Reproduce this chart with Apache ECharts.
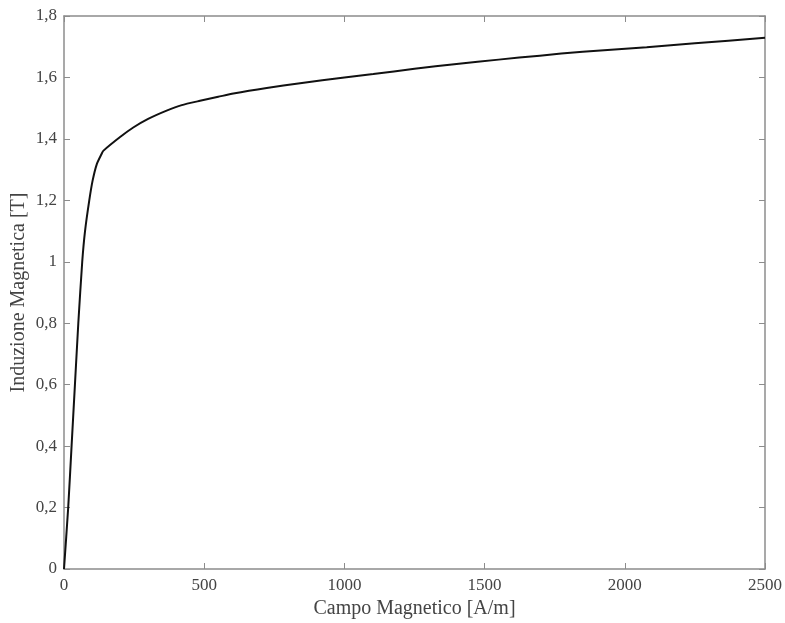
<!DOCTYPE html>
<html>
<head>
<meta charset="utf-8">
<script src="https://cdn.jsdelivr.net/npm/echarts@6/dist/echarts.min.js"></script>
<style>
  html, body { margin: 0; padding: 0; background: #fff; }
  #chart { width: 785px; height: 623px; }
</style>
</head>
<body>
<div id="chart"></div>
<script>
  // curva B-H
  var campoH = [0, 15, 27, 39, 51, 65, 75, 90, 102, 117, 134, 140, 200, 247, 300, 366, 420, 485, 550, 604, 723, 842, 1000, 1103, 1250, 1400, 1550, 1697, 1850, 2078, 2250, 2500];
  var induzioneB = [0, 0.2, 0.4, 0.6, 0.8, 1.0, 1.10, 1.199, 1.264, 1.318, 1.351, 1.361, 1.406, 1.437, 1.465, 1.492, 1.51, 1.524, 1.537, 1.548, 1.566, 1.581, 1.600, 1.611, 1.628, 1.644, 1.658, 1.671, 1.684, 1.698, 1.711, 1.729];

  var xTicks = [0, 500, 1000, 1500, 2000, 2500];
  var yTicks = [0, 0.2, 0.4, 0.6, 0.8, 1, 1.2, 1.4, 1.6, 1.8];

  var font = '"Liberation Serif", "DejaVu Serif", serif';
  var axisCol = '#8c8c8c';
  var textCol = '#444';

  var virgola = function(v) {
    return String(+v.toFixed(1)).replace('.', ',');
  };
  var intero = function(v) {
    return String(Math.round(v));
  };

  var punti = campoH.map(function(h, i) { return [h, induzioneB[i]]; });

  var baseX = function(pos, show) {
    return {
      type: 'value',
      position: pos,
      min: xTicks[0],
      max: xTicks[xTicks.length - 1],
      interval: 500,
      axisLine: { show: true, onZero: false, lineStyle: { color: axisCol, width: 1.5 } },
      axisTick: { show: true, inside: true, length: 6, lineStyle: { color: axisCol } },
      axisLabel: { show: show, color: textCol, fontFamily: font, fontSize: 17, margin: 8, formatter: intero },
      splitLine: { show: false }
    };
  };
  var baseY = function(pos, show) {
    return {
      type: 'value',
      position: pos,
      min: yTicks[0],
      max: yTicks[yTicks.length - 1],
      interval: 0.2,
      axisLine: { show: true, onZero: false, lineStyle: { color: axisCol, width: 1.5 } },
      axisTick: { show: true, inside: true, length: 6, lineStyle: { color: axisCol } },
      axisLabel: { show: show, color: textCol, fontFamily: font, fontSize: 17, margin: 7, formatter: virgola },
      splitLine: { show: false }
    };
  };

  var xBottom = baseX('bottom', true);
  xBottom.name = 'Campo Magnetico [A/m]';
  xBottom.nameLocation = 'middle';
  xBottom.nameGap = 30;
  xBottom.nameMoveOverlap = false;
  xBottom.nameTextStyle = { color: textCol, fontFamily: font, fontSize: 20 };

  var yLeft = baseY('left', true);
  yLeft.name = 'Induzione Magnetica [T]';
  yLeft.nameLocation = 'middle';
  yLeft.nameGap = 35;
  yLeft.nameMoveOverlap = false;
  yLeft.nameTextStyle = { color: textCol, fontFamily: font, fontSize: 20 };

  var myChart = echarts.init(document.getElementById('chart'), null, { renderer: 'canvas' });
  myChart.setOption({
    animation: false,
    backgroundColor: '#fff',
    grid: { left: 64, top: 16, right: 20, bottom: 54, containLabel: false, outerBoundsMode: 'none' },
    xAxis: [xBottom, baseX('top', false)],
    yAxis: [yLeft, baseY('right', false)],
    series: [{
      type: 'line',
      data: punti,
      xAxisIndex: 0,
      yAxisIndex: 0,
      showSymbol: false,
      smooth: 0.2,
      lineStyle: { color: '#111', width: 2 }
    }]
  });
</script>
</body>
</html>
